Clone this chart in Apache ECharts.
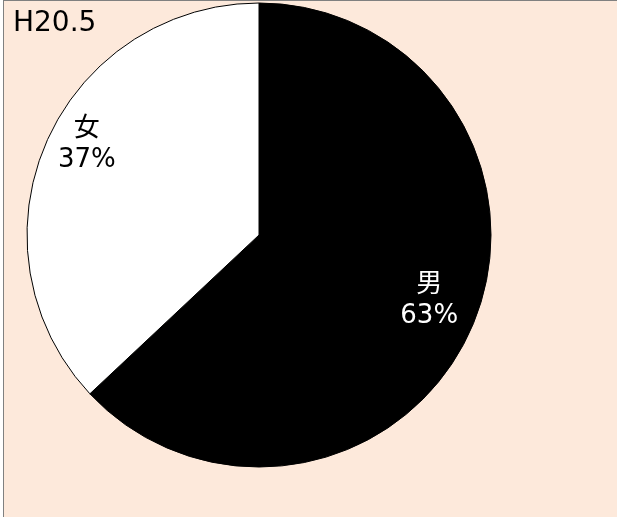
<!DOCTYPE html>
<html><head><meta charset="utf-8">
<script src="https://cdn.jsdelivr.net/npm/echarts@6/dist/echarts.min.js"></script>
<style>
html,body{margin:0;padding:0;background:#fff;}
#bg{position:absolute;left:3px;top:0;width:613px;height:516px;background:#FDE9DB;border-top:1px solid #808080;border-left:1px solid #808080;}
#c{position:absolute;left:0;top:0;width:617px;height:517px;}
</style></head>
<body>
<div id="bg"></div>
<div id="c"></div>
<script>
const titleText = 'H20.5';
const categories = ['男', '女'];
const values = [63, 37];
const sliceColors = ['#000000', '#FFFFFF'];
const labelColors = ['#FFFFFF', '#000000'];

const FONT = '"DejaVu Sans", "Noto Sans CJK JP", sans-serif';
const chart = echarts.init(document.getElementById('c'), null, {renderer: 'canvas'});
const offsets = [[61, 18], [-63, -43]];
chart.setOption({
  backgroundColor: 'transparent',
  animation: false,
  title: {
    text: titleText, left: 8, top: 5,
    textStyle: {fontFamily: FONT, fontSize: 28, fontWeight: 'normal', color: '#000'}
  },
  series: [{
    type: 'pie',
    center: [259, 235],
    radius: 232,
    startAngle: 90,
    clockwise: true,
    data: categories.map((c, i) => ({
      name: c, value: values[i],
      itemStyle: {color: sliceColors[i]},
      label: {color: labelColors[i]}
    })),
    itemStyle: {borderColor: '#000', borderWidth: 1},
    label: {
      show: true, position: 'inside',
      formatter: '{b}\n{d}%',
      fontFamily: FONT, fontSize: 26, lineHeight: 31
    },
    labelLayout: function (p) {
      const o = offsets[p.dataIndex];
      return {dx: o[0], dy: o[1]};
    },
    emphasis: {disabled: true}
  }]
});
</script>
</body></html>
